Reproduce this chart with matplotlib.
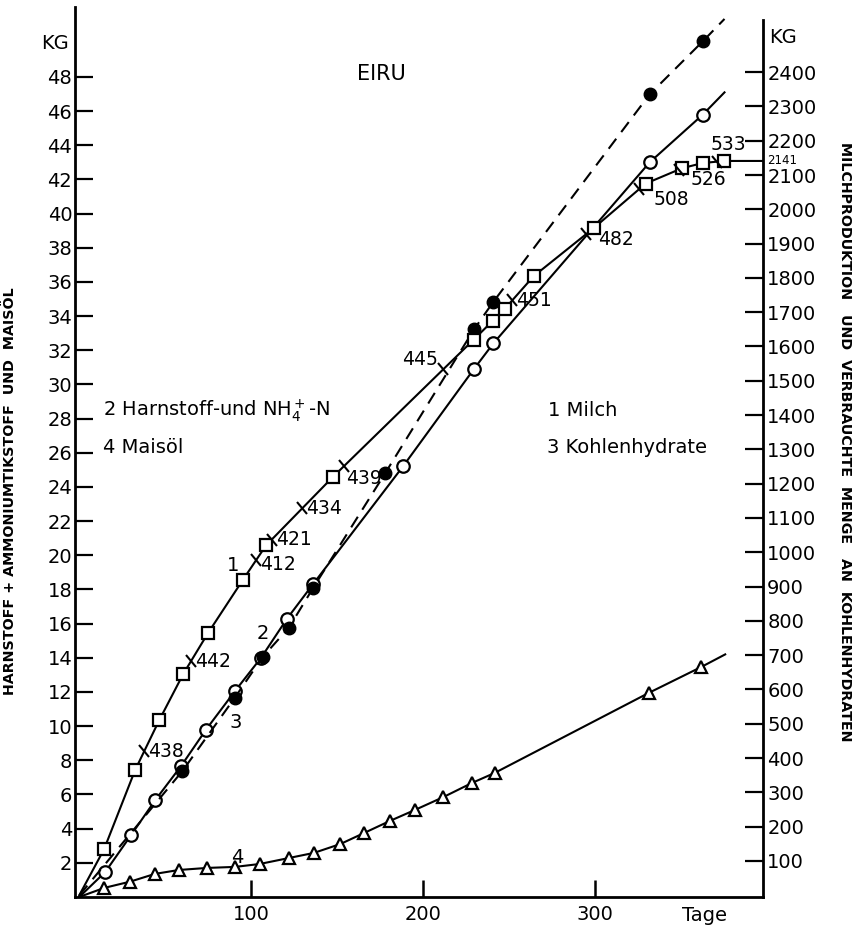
import matplotlib
matplotlib.use("Agg")
import matplotlib.pyplot as plt
from matplotlib.markers import MarkerStyle
from matplotlib.transforms import Affine2D
import numpy as np

# 1 Milch (kg, right axis) - squares
milk_days = [0, 14.5, 32.5, 46.5, 60.5, 75, 95.3, 108.7, 147.7, 229.6, 240.7, 247.7,
             264.5, 299.4, 329.7, 351, 363, 375.6, 398]
milk_kg = [0, 135, 365, 510, 645, 765, 920, 1020, 1220, 1620, 1675, 1710,
           1805, 1945, 2075, 2120, 2135, 2141, 2141]

# 2 Harnstoff- und NH4+-N (kg, left axis) - open circles
urea_days = [0, 15.1, 30.2, 44.3, 59.3, 73.8, 90.7, 105.8, 121, 136, 188.4,
             229.7, 241, 332, 363, 375.6]
urea_kg = [0, 1.46, 3.63, 5.68, 7.67, 9.8, 12.06, 14.0, 16.3, 18.3, 25.2,
           30.9, 32.4, 43.0, 45.8, 47.1]

# 3 Kohlenhydrate (kg, right axis) - filled circles, dashed
carb_days = [0, 60, 90.4, 106.8, 122, 136, 178, 229.8, 241, 332, 363, 375.6]
carb_kg = [0, 362, 575, 695, 780, 895, 1230, 1650, 1730, 2335, 2490, 2555]

# 4 Maisoel (kg, left axis) - triangles
oil_days = [0, 14.5, 29.7, 44, 58, 74.4, 90.7, 105, 122, 136.6, 152, 165.7, 180.8,
            195.3, 212, 228.5, 241.8, 331.4, 362.2, 376]
oil_kg = [0, 0.53, 0.9, 1.35, 1.58, 1.7, 1.76, 1.93, 2.28, 2.58, 3.1, 3.74, 4.45,
          5.09, 5.85, 6.67, 7.26, 11.94, 13.47, 14.2]

# tick marks along the milk curve with their numbers
mark_days = [37.8, 65, 103, 112, 129.7, 154, 212, 252, 295, 326, 349, 371]
mark_labels = ["438", "442", "412", "421", "434", "439", "445", "451", "482", "508", "526", "533"]
mark_offsets = [(4, 0), (4, 0), (4, -4), (4, 0), (4, 0), (2, -12), (-6, 10),
                (4, 0), (12, -5), (14, -10), (12, -10), (-6, 17)]
mark_ha = ["left"] * 6 + ["right"] + ["left"] * 5

left_ticks = list(range(2, 50, 2))
right_ticks = list(range(100, 2500, 100))
x_ticks = [100, 200, 300]

fig = plt.figure(figsize=(8.63, 9.27), dpi=100)
ax = fig.add_axes([0.0869, 0.0324, 0.7972, 0.9601])
ax2 = ax.twinx()

ax.set_xlim(-2.5, 398)
ax.set_ylim(0, 52.1)
ax2.set_ylim(-5, 2590)

lw = 1.5
ax.plot(urea_days, urea_kg, color="k", lw=lw, marker="o", ms=9, mfc="white",
        mec="k", mew=1.6, markevery=list(range(1, len(urea_days) - 1)))
ax.plot(oil_days, oil_kg, color="k", lw=lw, marker="^", ms=9, mfc="white",
        mec="k", mew=1.6, markevery=list(range(1, len(oil_days) - 1)))
ax2.plot(carb_days, carb_kg, color="k", lw=lw, ls=(0, (6, 4)), marker="o", ms=9,
         mfc="k", mec="k", markevery=list(range(1, len(carb_days) - 1)))
ax2.plot(milk_days, milk_kg, color="k", lw=lw, marker="s", ms=8, mfc="white",
         mec="k", mew=1.6, markevery=list(range(1, len(milk_days) - 1)))

# small slashes across the milk line
slash = MarkerStyle("|", transform=Affine2D().rotate_deg(40))
mark_vals = np.interp(mark_days, milk_days, milk_kg)
ax2.plot(mark_days, mark_vals, ls="none", marker=slash, ms=12, mec="k", mew=1.5)
for d, v, lab, off, ha in zip(mark_days, mark_vals, mark_labels, mark_offsets, mark_ha):
    ax2.annotate(lab, (d, v), xytext=off, textcoords="offset pixels",
                 ha=ha, va="center", fontsize=13.5)

# spines
for s in ["top", "right"]:
    ax.spines[s].set_visible(False)
for s in ["top", "left", "bottom"]:
    ax2.spines[s].set_visible(False)
for s in ["left", "bottom"]:
    ax.spines[s].set_linewidth(2)
ax2.spines["right"].set_linewidth(2)
ax2.spines["right"].set_bounds(-5, 2552)

ax.set_yticks(left_ticks)
ax.set_xticks(x_ticks)
ax2.set_yticks(right_ticks)
ax.tick_params(axis="y", direction="in", length=13, width=1.6, labelsize=14, pad=2)
ax.tick_params(axis="x", direction="in", length=12, width=1.8, labelsize=14, pad=6)
ax2.tick_params(axis="y", direction="in", length=13, width=1.6, labelsize=14, pad=3)

ax.text(364, -0.0105, "Tage", transform=ax.get_xaxis_transform(), ha="center",
        va="top", fontsize=14)
ax2.text(400.5, 2141, "2141", ha="left", va="center", fontsize=8.5)

# labels
fig.text(0.0637, 0.9536, "KG", ha="center", va="center", fontsize=14)
fig.text(0.9073, 0.960, "KG", ha="center", va="center", fontsize=14)
ax.text(176, 48.2, "EIRU", ha="center", va="center", fontsize=15)

ax.text(13.7, 28.5, "2 Harnstoff-und NH$_4^+$-N", ha="left", va="center", fontsize=14)
ax.text(13.7, 26.3, "4 Maisöl", ha="left", va="center", fontsize=14)
ax.text(273, 28.5, "1 Milch", ha="left", va="center", fontsize=14)
ax.text(272, 26.3, "3 Kohlenhydrate", ha="left", va="center", fontsize=14)

ax.text(89.5, 19.4, "1", ha="center", va="center", fontsize=14)
ax.text(107, 15.4, "2", ha="center", va="center", fontsize=14)
ax.text(91, 10.2, "3", ha="center", va="center", fontsize=14)
ax.text(92, 2.3, "4", ha="center", va="center", fontsize=14)

fig.text(0.0116, 0.470, "HARNSTOFF + AMMONIUMTIKSTOFF  UND  MAISÖL",
         rotation=90, ha="center", va="center", fontsize=10.3, fontweight="bold")
fig.text(0.979, 0.523, "MILCHPRODUKTION   UND  VERBRAUCHTE  MENGE   AN  KOHLENHYDRATEN",
         rotation=270, ha="center", va="center", fontsize=10.3, fontweight="bold")

fig.savefig("out.png", dpi=100)
